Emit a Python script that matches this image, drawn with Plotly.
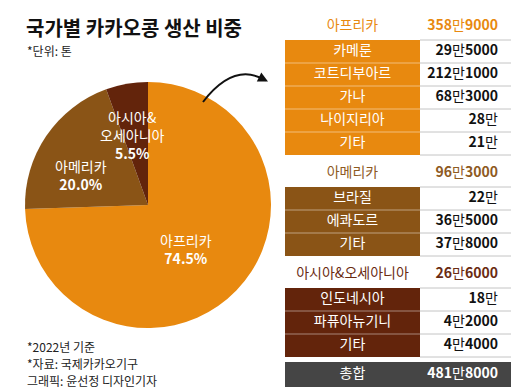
import plotly.graph_objects as go

W, H = 520, 389
FONT = "Noto Sans CJK KR"

# ---------------- data ----------------
regions = ['아프리카', '아메리카', '아시아&오세아니아']
pie_labels = ['아프리카', '아메리카', '아시아&<br>오세아니아']
region_tons = [3589000, 963000, 266000]

africa_countries = ['카메룬', '코트디부아르', '가나', '나이지리아', '기타']
africa_tons = [295000, 2121000, 683000, 280000, 210000]
americas_countries = ['브라질', '에콰도르', '기타']
americas_tons = [220000, 365000, 378000]
asia_countries = ['인도네시아', '파퓨아뉴기니', '기타']
asia_tons = [180000, 42000, 44000]
total_label = '총합'
total_tons = 4818000

title = '국가별 카카오콩 생산 비중'
unit_note = '*단위: 톤'
notes = ['*2022년 기준', '*자료: 국제카카오기구', '그래픽: 윤선정 디자인기자']

# ---------------- styles ----------------
slice_colors = ['#E8890F', '#8A5416', '#63240B']
header_colors = ['#E8890F', '#8E5A1F', '#6A2B12']
total_fill = '#454545'


def px(x):
    return x / W


def py(y):
    return 1 - y / H


def fmt_man(v, bold=True):
    man, rest = divmod(v, 10000)
    b0, b1 = ('<b>', '</b>') if bold else ('', '')
    s = f"{b0}{man}{b1}만"
    if rest:
        s += f"{b0}{rest}{b1}"
    return s


fig = go.Figure()

# ---------------- pie ----------------
cx, cy, r = 140, 197, 123
fig.add_trace(go.Pie(
    values=region_tons, labels=regions, sort=False, direction='clockwise',
    rotation=0, marker=dict(colors=slice_colors, line=dict(width=0)),
    textinfo='none', hoverinfo='skip', showlegend=False,
    domain=dict(x=[px(cx - r), px(cx + r)], y=[py(cy + r), py(cy - r)]),
))

tot = sum(region_tons)
shares = [v / tot * 100 for v in region_tons]
label_pos = [(178, 241), (73, 167), (124, 127)]
for lab, sh, (lx, ly) in zip(pie_labels, shares, label_pos):
    fig.add_annotation(
        x=px(lx), y=py(ly), xref='paper', yref='paper', showarrow=False,
        text=f"{lab}<br><b>{sh:.1f}%</b>", align='center',
        font=dict(family=FONT, size=14, color='white'),
        xanchor='center', yanchor='middle')

# ---------------- table (drawn on a hidden cartesian axis) ----------------
T_TOP, T_BOT = 5, 379           # pixel extent of table area
TX0, TX1 = 277, 503
LEFT_W, FULL_W = 135, 226       # column split in axis units (pixels)
HEADER_H, ROW_H, GAP, TOTAL_H = 27, 23, 5, 25
RIGHT_PAD = 13

groups = [
    (regions[0], region_tons[0], africa_countries, africa_tons, slice_colors[0], header_colors[0]),
    (regions[1], region_tons[1], americas_countries, americas_tons, slice_colors[1], header_colors[1]),
    (regions[2], region_tons[2], asia_countries, asia_tons, slice_colors[2], header_colors[2]),
]

cell_y, cell_fill = [], []
lt_x, lt_y, lt_txt, lt_col = [], [], [], []   # left column texts
rt_x, rt_y, rt_txt, rt_col = [], [], [], []   # right column texts
sep_gray_x, sep_gray_y = [], []
sep_pale_x, sep_pale_y = [], []

y = 0.0
for gname, gtons, names, tons, fill, hcol in groups:
    hc = y + HEADER_H / 2
    lt_x.append(LEFT_W / 2); lt_y.append(hc); lt_txt.append(gname); lt_col.append(hcol)
    rt_x.append(FULL_W - RIGHT_PAD); rt_y.append(hc); rt_txt.append(fmt_man(gtons)); rt_col.append(hcol)
    y += HEADER_H
    for i, (nm, t) in enumerate(zip(names, tons)):
        c = y + ROW_H / 2
        cell_y.append(c); cell_fill.append(fill)
        lt_x.append(LEFT_W / 2); lt_y.append(c); lt_txt.append(nm); lt_col.append('white')
        rt_x.append(FULL_W - RIGHT_PAD); rt_y.append(c); rt_txt.append(fmt_man(t)); rt_col.append('#111111')
        sep_gray_x += [LEFT_W, FULL_W, None]; sep_gray_y += [y, y, None]
        if i > 0:
            sep_pale_x += [0, LEFT_W, None]; sep_pale_y += [y, y, None]
        y += ROW_H
    sep_gray_x += [LEFT_W, FULL_W, None]; sep_gray_y += [y, y, None]
    y += GAP

total_c = y + TOTAL_H / 2
y_end = y + TOTAL_H

fig.add_trace(go.Bar(
    orientation='h', y=cell_y, x=[LEFT_W] * len(cell_y), base=0, width=ROW_H,
    marker=dict(color=cell_fill, line=dict(width=0)), xaxis='x2', yaxis='y2',
    hoverinfo='skip', showlegend=False))
fig.add_trace(go.Bar(
    orientation='h', y=[total_c], x=[FULL_W], base=0, width=TOTAL_H,
    marker=dict(color=total_fill, line=dict(width=0)), xaxis='x2', yaxis='y2',
    hoverinfo='skip', showlegend=False))
fig.add_trace(go.Scatter(
    x=sep_pale_x, y=sep_pale_y, mode='lines', line=dict(color='rgba(255,255,255,0.45)', width=1),
    xaxis='x2', yaxis='y2', hoverinfo='skip', showlegend=False))
fig.add_trace(go.Scatter(
    x=sep_gray_x, y=sep_gray_y, mode='lines', line=dict(color='#c4c4c4', width=1),
    xaxis='x2', yaxis='y2', hoverinfo='skip', showlegend=False))

lt_x.append(LEFT_W / 2); lt_y.append(total_c); lt_txt.append(total_label); lt_col.append('white')
rt_x.append(FULL_W - RIGHT_PAD); rt_y.append(total_c); rt_txt.append(fmt_man(total_tons)); rt_col.append('white')

fig.add_trace(go.Scatter(
    x=lt_x, y=lt_y, text=lt_txt, mode='text', textposition='middle center',
    textfont=dict(family=FONT, size=14, color=lt_col),
    xaxis='x2', yaxis='y2', hoverinfo='skip', showlegend=False))
fig.add_trace(go.Scatter(
    x=rt_x, y=rt_y, text=rt_txt, mode='text', textposition='middle left',
    textfont=dict(family=FONT, size=14, color=rt_col),
    xaxis='x2', yaxis='y2', hoverinfo='skip', showlegend=False))

# ---------------- arrow ----------------
x0, y0, qx, qy, x1, y1 = 195, 94, 225, 55, 255, 71
fig.add_shape(type='path', xref='paper', yref='paper',
              path=f"M {px(x0)},{py(y0)} Q {px(qx)},{py(qy)} {px(x1)},{py(y1)}",
              line=dict(color='#111111', width=2))
fig.add_annotation(x=px(260), y=py(73.5), xref='paper', yref='paper',
                   ax=-9, ay=-4.5, showarrow=True, arrowhead=2, arrowsize=1,
                   arrowwidth=2, arrowcolor='#111111', text='')

# ---------------- text ----------------
fig.add_annotation(x=px(16), y=py(20), xref='paper', yref='paper', showarrow=False,
                   text=f"<b>{title}</b>", xanchor='left', yanchor='middle',
                   font=dict(family=FONT, size=20, color='#111111'))
fig.add_annotation(x=px(17), y=py(43), xref='paper', yref='paper', showarrow=False,
                   text=unit_note, xanchor='left', yanchor='middle',
                   font=dict(family=FONT, size=12, color='#222222'))
for i, t in enumerate(notes):
    fig.add_annotation(x=px(17), y=py(338 + 17 * i), xref='paper', yref='paper',
                       showarrow=False, text=t, xanchor='left', yanchor='middle',
                       font=dict(family=FONT, size=12, color='#222222'))

fig.update_layout(
    width=W, height=H, margin=dict(l=0, r=0, t=0, b=0),
    paper_bgcolor='white', plot_bgcolor='white', font=dict(family=FONT),
    barmode='overlay',
    xaxis2=dict(domain=[px(TX0), px(TX1)], range=[0, FULL_W], visible=False,
                fixedrange=True, anchor='y2'),
    yaxis2=dict(domain=[py(T_TOP + y_end), py(T_TOP)], range=[y_end, 0], visible=False,
                fixedrange=True, anchor='x2'),
)

fig.write_html("out.html")
